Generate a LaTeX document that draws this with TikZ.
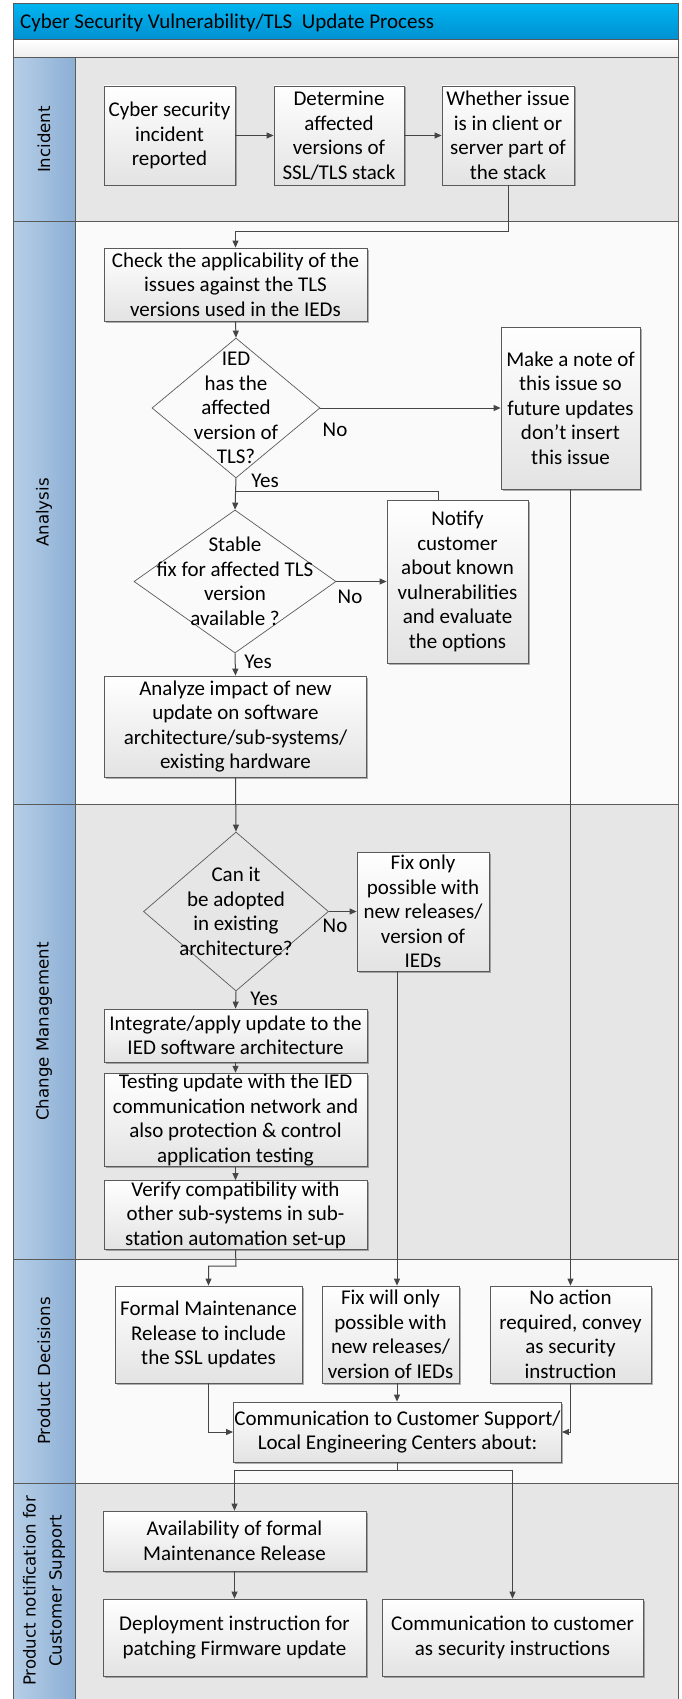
\documentclass[tikz,border=0pt]{standalone}
\usepackage{fontspec}
\setmainfont{Carlito}
\newfontfamily\lanefont{DejaVu Sans}
\usetikzlibrary{arrows.meta,shapes.geometric,shadows}

\definecolor{titletop}{HTML}{00B4F0}
\definecolor{titlebot}{HTML}{0090D0}
\definecolor{laneL}{HTML}{B7CFE7}
\definecolor{laneR}{HTML}{8CAFD5}
\definecolor{lanegray}{HTML}{E6E6E6}
\definecolor{lanewhite}{HTML}{FAFAFA}
\definecolor{edge}{HTML}{5A5A5A}
\definecolor{wirec}{HTML}{454545}
\definecolor{boxbot}{HTML}{E3E3E3}

\begin{document}
\begin{tikzpicture}[x=1pt,y=-1pt,
  box/.style={draw=edge, line width=0.8pt, top color=white, bottom color=boxbot,
    align=center, inner sep=1pt, font=\fontsize{21}{24.5}\selectfont,
    drop shadow={shadow xshift=1.5pt, shadow yshift=-1.5pt, opacity=0.3, fill=black}},
  dia/.style={diamond, draw=edge, line width=0.7pt, inner sep=0pt},
  dtext/.style={align=center, font=\fontsize{21}{24.5}\selectfont, inner sep=0pt},
  lbl/.style={font=\fontsize{21}{24.5}\selectfont, inner sep=0pt},
  wire/.style={draw=wirec, line width=1pt},
  arr/.style={wire, -{Triangle[length=7pt,width=6pt]}},
  lanetxt/.style={rotate=90, align=center, font=\lanefont\fontsize{16.6}{26}\selectfont, inner sep=0pt},
  laneside/.style={draw=edge, line width=1pt, left color=laneL, right color=laneR},
]
\useasboundingbox (0,0) rectangle (681,1699);
\fill[white] (0,0) rectangle (681,1699);

% title
\path[draw=edge, line width=1pt, top color=titletop, bottom color=titlebot] (13,4) rectangle (678,40);
\node[lbl, anchor=base west] (title) at (20,29) {Cyber Security Vulnerability/TLS\ \ Update Process};
\path[draw=edge, line width=1pt, top color=white, bottom color=black!7] (13,40) rectangle (678,58);

% lanes
\path[draw=edge, line width=1pt, fill=lanegray]  (75,58) rectangle (678,221);
\path[draw=edge, line width=1pt, fill=lanewhite] (75,221) rectangle (678,804);
\path[draw=edge, line width=1pt, fill=lanegray]  (75,804) rectangle (678,1259);
\path[draw=edge, line width=1pt, fill=lanewhite] (75,1259) rectangle (678,1483);
\path[draw=edge, line width=1pt, fill=lanegray]  (75,1483) rectangle (678,1702);
\path[laneside] (13,58) rectangle (75,221);
\path[laneside] (13,221) rectangle (75,804);
\path[laneside] (13,804) rectangle (75,1259);
\path[laneside] (13,1259) rectangle (75,1483);
\path[laneside] (13,1483) rectangle (75,1702);
\node[lanetxt] (lInc) at (44,139.5) {Incident};
\node[lanetxt] (lAna) at (44,512.5) {Analysis};
\node[lanetxt] (lCM) at (44,1031.5) {Change Management};
\node[lanetxt] (lPD) at (44,1371) {Product Decisions};
\node[lanetxt] (lPN) at (44,1591) {Product notification for\\Customer Support};

% boxes
\node[box, minimum width=131pt, minimum height=99pt] (inc1) at (169.5,135.5) {Cyber security\\incident\\reported};
\node[box, minimum width=130pt, minimum height=99pt] (inc2) at (339,135.5) {Determine\\affected\\versions of\\SSL/TLS stack};
\node[box, minimum width=132pt, minimum height=99pt] (inc3) at (508,135.5) {Whether issue\\is in client or\\server part of\\the stack};
\node[box, minimum width=263pt, minimum height=73pt] (check) at (235.5,284.5) {Check the applicability of the\\issues against the TLS\\versions used in the IEDs};
\node[dia, minimum width=168pt, minimum height=140pt] (d1) at (236,408) {};
\node[dtext] (d1t) at (d1.center) {IED\\has the\\affected\\version of\\TLS?};
\node[box, minimum width=139pt, minimum height=162pt] (note) at (570.5,408) {Make a note of\\this issue so\\future updates\\don’t insert\\this issue};
\node[dia, minimum width=202pt, minimum height=143pt] (d2) at (235,581.5) {};
\node[dtext] (d2t) at (d2.center) {Stable\\fix for affected TLS\\version\\available ?};
\node[box, minimum width=141pt, minimum height=163pt] (notify) at (457.5,581.5) {Notify\\customer\\about known\\vulnerabilities\\and evaluate\\the options};
\node[box, minimum width=262pt, minimum height=101pt] (analyze) at (235.5,726.5) {Analyze impact of new\\update on software\\architecture/sub-systems/\\existing hardware};
\node[dia, minimum width=185pt, minimum height=159pt] (d3) at (236,911.5) {};
\node[dtext] (d3t) at (d3.center) {Can it\\be adopted\\in existing\\architecture?};
\node[box, minimum width=132pt, minimum height=119pt] (fixonly) at (423,911.5) {Fix only\\possible with\\new releases/\\version of\\IEDs};
\node[box, minimum width=263pt, minimum height=53pt] (integrate) at (235.5,1035.5) {Integrate/apply update to the\\IED software architecture};
\node[box, minimum width=263pt, minimum height=92pt] (testing) at (235.5,1120) {Testing update with the IED\\communication network and\\also protection \& control\\application testing};
\node[box, minimum width=263pt, minimum height=68pt] (verify) at (235.5,1215) {Verify compatibility with\\other sub-systems in sub-\\station automation set-up};
\node[box, minimum width=187pt, minimum height=97pt] (formal) at (208.5,1334.5) {Formal Maintenance\\Release to include\\the SSL updates};
\node[box, minimum width=137pt, minimum height=97pt] (fixwill) at (390.5,1334.5) {Fix will only\\possible with\\new releases/\\version of IEDs};
\node[box, minimum width=161pt, minimum height=97pt] (noaction) at (570.5,1334.5) {No action\\required, convey\\as security\\instruction};
\node[box, minimum width=321pt, minimum height=60pt] (comm) at (397.5,1432) {Communication to Customer Support/\\Local Engineering Centers about:};
\node[box, minimum width=263pt, minimum height=60pt] (avail) at (234.5,1541) {Availability of formal\\Maintenance Release};
\node[box, minimum width=263pt, minimum height=77pt] (deploy) at (234.5,1637.5) {Deployment instruction for\\patching Firmware update};
\node[box, minimum width=261pt, minimum height=77pt] (commcust) at (512.5,1637.5) {Communication to customer\\as security instructions};

% connectors
\coordinate (j1) at (508,231);
\coordinate (j2) at (236,491);
\coordinate (j3) at (438,491);
\coordinate (j4) at (236,1266);
\coordinate (fx) at (397,0);
\coordinate (j6) at (397,1470);
\draw[arr] (inc1.east) -- (inc2.west);
\draw[arr] (inc2.east) -- (inc3.west);
\draw[arr] (inc3.south) -- (j1) -| (check.north);
\draw[arr] (check.south) -- (d1.north);
\draw[arr] (d1.east) -- (note.west);
\draw[arr] (d1.south) -- (d2.north);
\draw[wire] (j2) -- (j3) -- (j3 |- notify.north);
\draw[arr] (d2.east) -- (notify.west);
\draw[arr] (d2.south) -- (analyze.north);
\draw[arr] (analyze.south) -- (d3.north);
\draw[arr] (d3.east) -- (fixonly.west);
\draw[arr] (d3.south) -- (integrate.north);
\draw[arr] (integrate.south) -- (testing.north);
\draw[arr] (testing.south) -- (verify.north);
\draw[arr] (verify.south) -- (j4) -| (formal.north);
\draw[arr] (fx |- fixonly.south) -- (fx |- fixwill.north);
\draw[arr] (fx |- fixwill.south) -- (fx |- comm.north);
\draw[arr] (note.south) -- (note.south |- noaction.north);
\draw[arr] (formal.south) |- (comm.west);
\draw[arr] (noaction.south) |- (comm.east);
\draw[wire] (fx |- comm.south) -- (j6);
\draw[arr] (j6) -| (avail.north);
\draw[arr] (j6) -| (commcust.north);
\draw[arr] (avail.south) -- (deploy.north);

% labels
\node[lbl] (no1) at (335,430) {No};
\node[lbl] (yes1) at (265,481) {Yes};
\node[lbl] (no2) at (350,597) {No};
\node[lbl] (yes2) at (258,662) {Yes};
\node[lbl] (no3) at (335,926) {No};
\node[lbl] (yes3) at (264,999) {Yes};
\end{tikzpicture}
\end{document}
